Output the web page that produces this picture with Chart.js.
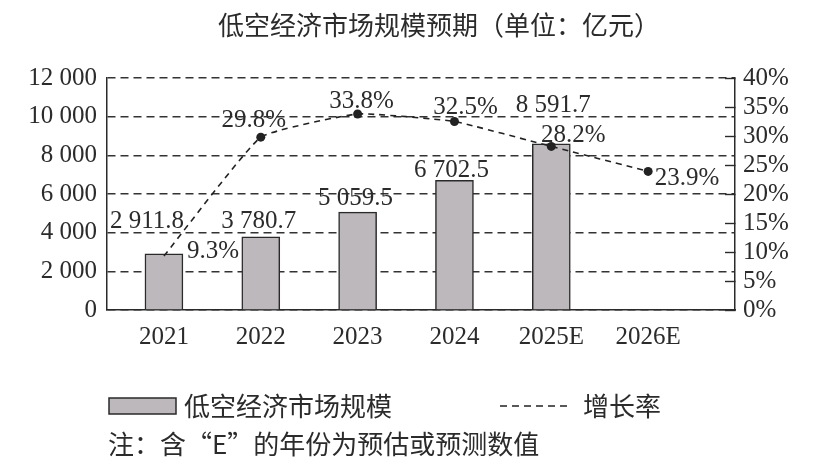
<!DOCTYPE html>
<html>
<head>
<meta charset="utf-8">
<script src="https://cdn.jsdelivr.net/npm/chart.js@4/dist/chart.umd.min.js"></script>
<style>
  html, body { margin: 0; padding: 0; background: #ffffff; }
  #wrap { width: 818px; height: 465px; }
</style>
</head>
<body>
<div id="wrap"><canvas id="c" width="818" height="465"></canvas></div>
<script>
// ---- data ----
const chartTitle = '低空经济市场规模预期（单位：亿元）';
const noteText = '注：含“E”的年份为预估或预测数值';
const categories = ['2021', '2022', '2023', '2024', '2025E', '2026E'];
const marketSize = [2911.8, 3780.7, 5059.5, 6702.5, 8591.7, null];
const growthRate = [9.3, 29.8, 33.8, 32.5, 28.2, 23.9];
const leftTicks = [0, 2000, 4000, 6000, 8000, 10000, 12000];
const rightTicks = [0, 5, 10, 15, 20, 25, 30, 35, 40];
const seriesNames = ['低空经济市场规模', '增长率'];

// ---- styles ----
const INK = '#2b2b2b';
const BAR_FILL = '#bcb8bb';
const NUM_FONT = 'Liberation Serif';
const CJK_FONT = 'Noto Sans CJK SC';

function fmtNum(v, dec) {
  const s = v.toFixed(dec);
  const parts = s.split('.');
  const intPart = parts[0].replace(/\B(?=(\d{3})+(?!\d))/g, ' ');
  return parts.length > 1 ? intPart + '.' + parts[1] : intPart;
}

// label placement offsets (pixels, relative to the drawn element)
const labelPlacement = {
  bar: { dx: [-17, -2, -2, -3, 2, 0], dy: [-26, -9, -7, -3, -32, 0] },
  line: { dx: [49, -7, 4, 11, 22, 39], dy: [2, -10, -6, -8, -4, 14] }
};

const valueLabels = {
  id: 'valueLabels',
  afterDatasetsDraw(chart) {
    const ctx = chart.ctx;
    ctx.save();
    ctx.fillStyle = INK;
    ctx.font = '25px "' + NUM_FONT + '"';
    ctx.textAlign = 'center';
    ctx.textBaseline = 'alphabetic';
    chart.data.datasets.forEach((ds, di) => {
      const meta = chart.getDatasetMeta(di);
      const place = ds.type === 'bar' ? labelPlacement.bar : labelPlacement.line;
      meta.data.forEach((el, i) => {
        const raw = ds.data[i];
        if (!raw || raw.y === null || raw.y === undefined) return;
        const txt = ds.type === 'bar' ? fmtNum(raw.y, 1) : fmtNum(raw.y, 1) + '%';
        ctx.fillText(txt, el.x + place.dx[i], el.y + place.dy[i]);
      });
    });
    ctx.restore();
  }
};

const titleAndLegend = {
  id: 'titleAndLegend',
  afterDraw(chart) {
    const ctx = chart.ctx;
    const dsBar = chart.data.datasets[0];
    const dsLine = chart.data.datasets[1];
    ctx.save();
    ctx.fillStyle = INK;
    ctx.font = '26px "' + CJK_FONT + '"';
    ctx.textBaseline = 'middle';
    // title
    ctx.textAlign = 'center';
    ctx.fillText(chartTitle, 439, 25);
    // legend: bar swatch
    const rowY = 406;
    ctx.fillStyle = dsBar.backgroundColor;
    ctx.fillRect(109, rowY - 8, 67, 16);
    ctx.strokeStyle = dsBar.borderColor;
    ctx.lineWidth = 1.5;
    ctx.strokeRect(109, rowY - 8, 67, 16);
    ctx.fillStyle = INK;
    ctx.textAlign = 'left';
    ctx.fillText(dsBar.label, 184, rowY);
    // legend: line swatch
    ctx.strokeStyle = dsLine.borderColor;
    ctx.lineWidth = 1.5;
    ctx.setLineDash([7, 5]);
    ctx.beginPath();
    ctx.moveTo(500, rowY);
    ctx.lineTo(568, rowY);
    ctx.stroke();
    ctx.setLineDash([]);
    ctx.fillText(dsLine.label, 583, rowY);
    // note
    ctx.fillText(noteText, 108, 444);
    ctx.restore();
  }
};

const barData = marketSize.map((v, i) => ({ x: i, y: v }));
const lineData = growthRate.map((v, i) => ({ x: i, y: v }));

new Chart(document.getElementById('c'), {
  data: {
    datasets: [
      {
        type: 'bar',
        label: seriesNames[0],
        data: barData,
        yAxisID: 'y',
        backgroundColor: BAR_FILL,
        borderColor: '#2a2a2a',
        borderWidth: 1.5,
        barThickness: 38,
        order: 2
      },
      {
        type: 'line',
        label: seriesNames[1],
        data: lineData,
        yAxisID: 'y1',
        borderColor: '#222222',
        backgroundColor: '#222222',
        borderWidth: 1.6,
        borderDash: [6, 5],
        tension: 0.12,
        pointRadius: (c) => (c.dataIndex === 0 ? 0 : 4.5),
        pointBackgroundColor: '#222222',
        pointBorderWidth: 0,
        order: 1
      }
    ]
  },
  options: {
    responsive: false,
    animation: false,
    devicePixelRatio: 1,
    layout: { padding: { left: 0, right: 0, top: 78, bottom: 100 } },
    plugins: {
      legend: { display: false },
      tooltip: { enabled: false },
      title: { display: false }
    },
    scales: {
      x: {
        type: 'linear',
        offset: false,
        min: -0.588,
        max: 5.897,
        afterBuildTicks: (s) => { s.ticks = categories.map((c, i) => ({ value: i })); },
        afterFit: (s) => { s.height = 55; },
        ticks: {
          callback: (v) => categories[v],
          color: INK,
          font: { family: NUM_FONT, size: 25 },
          padding: 12,
          maxRotation: 0,
          autoSkip: false
        },
        grid: { display: false, drawTicks: false, offset: false },
        border: { display: true, color: '#2a2a2a', width: 1.5 }
      },
      y: {
        position: 'left',
        min: 0,
        max: 12000,
        afterBuildTicks: (s) => { s.ticks = leftTicks.map((v) => ({ value: v })); },
        afterFit: (s) => { s.width = 107; },
        ticks: {
          callback: (v) => fmtNum(v, 0),
          color: INK,
          font: { family: NUM_FONT, size: 25 },
          padding: 10,
          autoSkip: false
        },
        grid: { color: '#333333', lineWidth: 1.4, drawTicks: false },
        border: { display: true, color: '#2a2a2a', width: 1.5, dash: [8, 5] }
      },
      y1: {
        position: 'right',
        min: 0,
        max: 40,
        afterBuildTicks: (s) => { s.ticks = rightTicks.map((v) => ({ value: v })); },
        afterFit: (s) => { s.width = 83; },
        ticks: {
          callback: (v) => v + '%',
          color: INK,
          font: { family: NUM_FONT, size: 25 },
          padding: 18,
          autoSkip: false
        },
        grid: {
          display: true,
          drawOnChartArea: false,
          drawTicks: true,
          tickLength: -10,
          tickColor: '#2a2a2a',
          tickWidth: 1.4
        },
        border: { display: true, color: '#2a2a2a', width: 1.5 }
      }
    }
  },
  plugins: [valueLabels, titleAndLegend]
});
</script>
</body>
</html>
